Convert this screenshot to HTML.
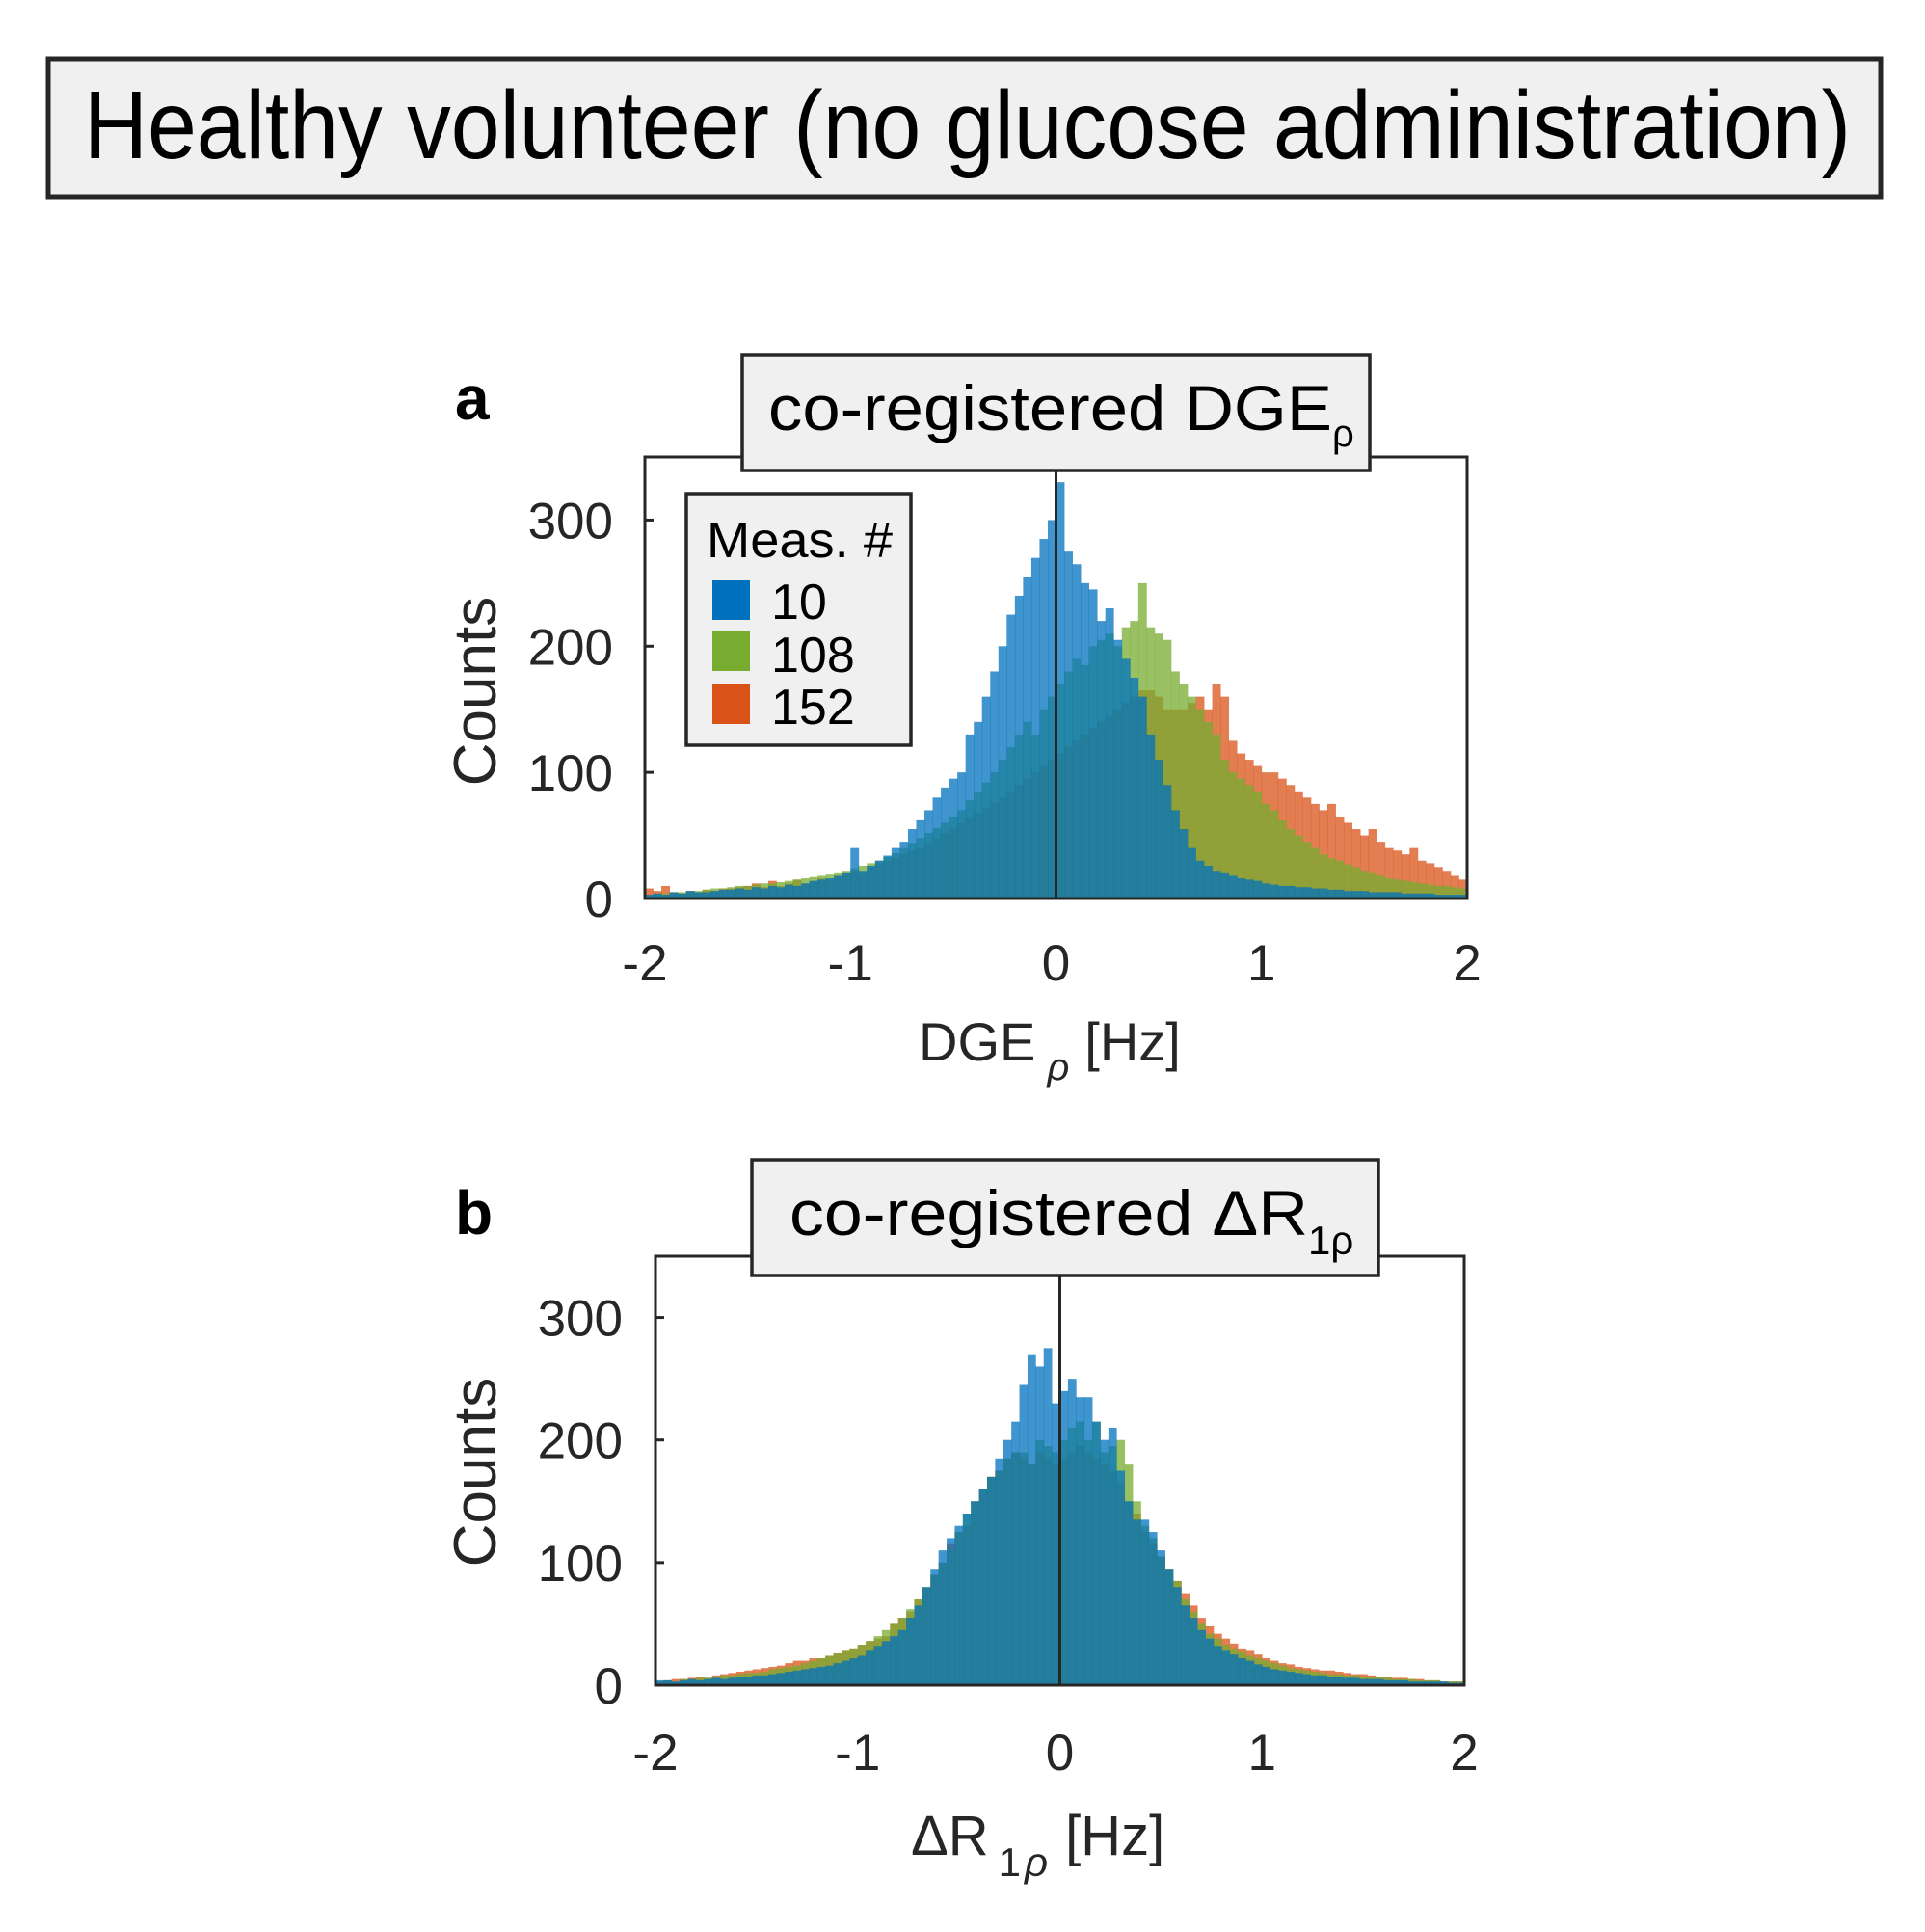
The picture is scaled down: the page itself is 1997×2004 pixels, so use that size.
<!DOCTYPE html>
<html><head><meta charset="utf-8">
<style>
html,body{margin:0;padding:0;background:#fff;}
svg{display:block;font-family:"Liberation Sans",Arial,sans-serif;}
</style></head>
<body>
<svg id="fig" width="1997" height="2004" viewBox="0 0 1997 2004" xmlns="http://www.w3.org/2000/svg">
  <g>
    <rect x="50" y="61" width="1901" height="143" fill="#f0f0f0" stroke="#262626" stroke-width="5"/>
    <text x="87" y="164" font-size="100" fill="#000" textLength="1833" lengthAdjust="spacingAndGlyphs">Healthy volunteer (no glucose administration)</text>
  </g>
  <g id="panelA"></g>
  <g id="panelB"></g>
</svg>
<script>
// bin edges: -2..2, 100 bins of width 0.04
const binStart = -2, binWidth = 0.04;
const yTicks = [0, 100, 200, 300];
const xTicks = [-2, -1, 0, 1, 2];
const xTickLabels = ["-2", "-1", "0", "1", "2"];
const legendLabels = ["10", "108", "152"];

const aMeas10 = [3,4,3,5,4,6,5,5,6,7, 7,8,7,9,8,10,9,11,10,12, 14,15,16,18,20,40,22,26,30,34,
  40,45,55,62,70,80,88,95,100,130, 140,160,180,200,225,240,255,270,285,300,
  330,275,265,250,245,220,230,205,190,175, 160,130,110,90,70,55,40,30,26,22,
  20,18,16,15,14,12,11,10,10,9, 9,8,8,7,7,6,6,6,5,5, 5,5,4,4,4,4,3,3,3,3];
const aMeas108 = [3,4,4,5,5,6,6,7,8,8, 9,10,10,11,12,12,13,14,15,16, 17,18,19,20,22,24,26,28,30,33,
  36,40,44,48,52,56,60,65,70,78, 85,92,100,110,120,130,140,130,150,160,
  170,180,190,185,200,205,210,200,215,220, 250,215,210,205,180,170,160,150,140,130,
  110,100,95,90,85,75,70,62,55,50, 45,40,35,32,30,27,25,22,20,18, 16,15,14,13,12,11,10,10,9,8];
const aMeas152 = [8,6,10,5,4,6,5,7,6,8, 8,9,10,12,9,14,10,12,15,12, 14,16,15,18,20,22,20,25,28,30,
  32,35,38,40,44,48,52,56,60,64, 68,72,76,80,85,90,95,100,105,110,
  115,120,125,130,135,140,145,150,155,160, 165,165,160,150,150,150,155,160,150,170,
  160,125,115,110,105,100,100,95,90,85, 80,75,70,75,65,60,55,50,55,45, 40,38,35,40,30,28,25,22,18,15];

const bMeas10 = [4,4,3,4,5,4,5,6,5,6, 7,7,8,8,9,10,11,12,13,14, 15,16,18,20,22,24,28,32,36,40,
  45,55,65,80,95,110,120,130,140,150, 160,170,185,200,215,245,270,260,275,230,
  240,250,235,235,215,200,210,175,150,135, 135,125,110,95,80,65,55,45,38,32,
  28,25,22,20,17,15,13,12,11,10, 9,8,8,7,7,6,6,5,5,5, 4,4,4,3,3,3,3,3,2,2];
const bMeas108 = [3,4,3,5,5,6,6,7,8,8, 9,10,10,11,13,14,15,16,18,20, 22,24,26,28,30,33,36,40,45,50,
  55,62,70,80,90,100,110,125,140,150, 160,170,175,185,190,190,180,200,195,190,
  200,210,215,200,215,190,195,200,180,150, 130,120,105,95,85,70,60,50,42,38,
  33,30,27,24,22,20,18,16,14,13, 12,11,10,9,9,8,8,7,7,6, 6,5,5,5,4,4,4,3,3,3];
const bMeas152 = [3,4,5,5,6,7,6,8,9,10, 11,12,13,14,15,16,18,20,20,22, 22,24,26,28,30,33,36,38,40,50,
  55,60,70,80,90,100,115,125,130,150, 160,170,175,185,190,185,180,190,185,180,
  185,190,195,190,185,180,175,165,150,140, 125,115,105,95,85,75,65,55,48,42,
  38,34,30,28,25,22,20,18,17,15, 14,13,12,12,11,10,9,9,8,7, 7,6,6,5,5,4,4,3,3,3];

const colors = ["#0072BD", "#77AC30", "#D95319"];
const NS = "http://www.w3.org/2000/svg";
function mk(tag, attrs, parent) {
  const e = document.createElementNS(NS, tag);
  for (const k in attrs) e.setAttribute(k, attrs[k]);
  if (parent) parent.appendChild(e);
  return e;
}

function drawPanel(g, cfg) {
  const xS = v => cfg.x0 + (v - (-2)) / 4 * (cfg.x1 - cfg.x0);
  const yS = v => cfg.y1 - v / 350 * (cfg.y1 - cfg.y0);
  const order = [2, 1, 0];
  order.forEach(si => {
    const arr = cfg.series[si];
    const sg = mk("g", {}, g);
    
    
    arr.forEach((v, i) => {
      const xa = xS(binStart + i * binWidth), xb = xS(binStart + (i + 1) * binWidth);
      const r = mk("rect", {x: xa, y: yS(v), width: xb - xa + 0.4, height: yS(0) - yS(v), fill: colors[si], "fill-opacity": 0.75}, sg);
      
      
    });
  });
  const box = mk("rect", {x: cfg.x0, y: cfg.y0, width: cfg.x1 - cfg.x0, height: cfg.y1 - cfg.y0, fill: "none", stroke: "#262626", "stroke-width": 3}, g);
  
  
  yTicks.forEach(t => {
    const y = yS(t);
    mk("line", {x1: cfg.x0, x2: cfg.x0 + 9, y1: y, y2: y, stroke: "#262626", "stroke-width": 3}, g);
    const tl = mk("text", {x: cfg.ytx, y: y + 19, "font-size": 53, fill: "#262626", "text-anchor": "end"}, g);
    tl.textContent = String(t);
    
    
  });
  xTicks.forEach((t, i) => {
    const tl = mk("text", {x: xS(t), y: cfg.xty, "font-size": 53, fill: "#262626", "text-anchor": "middle"}, g);
    tl.textContent = xTickLabels[i];
    
    
  });
  const zl = mk("line", {x1: xS(0), x2: xS(0), y1: cfg.tby + cfg.tbh, y2: cfg.y1, stroke: "#262626", "stroke-width": 3}, g);
  
  
  const tb = mk("rect", {x: cfg.tbx, y: cfg.tby, width: cfg.tbw, height: cfg.tbh, fill: "#f0f0f0", stroke: "#262626", "stroke-width": 3.5}, g);
  
  
  const yl = mk("text", {x: 0, y: 0, "font-size": 62, fill: "#262626", "text-anchor": "middle", transform: "translate(" + cfg.ylx + "," + cfg.yly + ") rotate(-90)"}, g);
  yl.textContent = "Counts";
  
  
}

const A = document.getElementById("panelA");
drawPanel(A, {x0: 669, x1: 1522, y0: 474, y1: 932, ytx: 636, xty: 1017,
  tbx: 770, tby: 368, tbw: 651, tbh: 120, ylx: 514, yly: 717,
  series: [aMeas10, aMeas108, aMeas152]});
const B = document.getElementById("panelB");
drawPanel(B, {x0: 680, x1: 1519, y0: 1303, y1: 1748, ytx: 646, xty: 1836,
  tbx: 780, tby: 1203, tbw: 650, tbh: 120, ylx: 514, yly: 1527,
  series: [bMeas10, bMeas108, bMeas152]});
</script>
<script>
(function(){
  const NS = "http://www.w3.org/2000/svg";
  const svg = document.getElementById("fig");
  const html = `
  <text x="472" y="435" font-size="64" font-weight="bold" fill="#000">a</text>
  <text x="797" y="446" font-size="66" fill="#000"><tspan textLength="585" lengthAdjust="spacingAndGlyphs">co-registered DGE</tspan><tspan font-size="40" dy="17">ρ</tspan></text>
  <g>
    <rect x="712" y="512" width="233" height="261" fill="#f0f0f0" stroke="#262626" stroke-width="3.5"/>
    <text x="733" y="578" font-size="52" fill="#000" textLength="193" lengthAdjust="spacingAndGlyphs">Meas. #</text>
    <rect x="739" y="602" width="39" height="41" fill="#0072BD"/>
    <text x="800" y="642" font-size="52" fill="#000">10</text>
    <rect x="739" y="655" width="39" height="41" fill="#77AC30"/>
    <text x="800" y="697" font-size="52" fill="#000">108</text>
    <rect x="739" y="710" width="39" height="41" fill="#D95319"/>
    <text x="800" y="751" font-size="52" fill="#000">152</text>
  </g>
  <text x="953" y="1100" font-size="56" fill="#262626">DGE<tspan font-style="italic" font-size="40" dy="20" dx="12">ρ</tspan><tspan dy="-20" dx="16">[Hz]</tspan></text>
  <text x="472" y="1280" font-size="64" font-weight="bold" fill="#000">b</text>
  <text x="819" y="1281" font-size="66" fill="#000"><tspan textLength="538" lengthAdjust="spacingAndGlyphs">co-registered ΔR</tspan><tspan font-size="42" dy="20">1ρ</tspan></text>
  <text x="945" y="1924" font-size="58" fill="#262626">ΔR<tspan font-size="42" dy="22" dx="10">1</tspan><tspan font-style="italic" font-size="42" dx="4">ρ</tspan><tspan dy="-22" dx="18">[Hz]</tspan></text>
  `;
  const tmp = document.createElementNS(NS, "g");
  tmp.innerHTML = html;
  while (tmp.firstChild) svg.appendChild(tmp.firstChild);
})();
</script>
</body></html>
